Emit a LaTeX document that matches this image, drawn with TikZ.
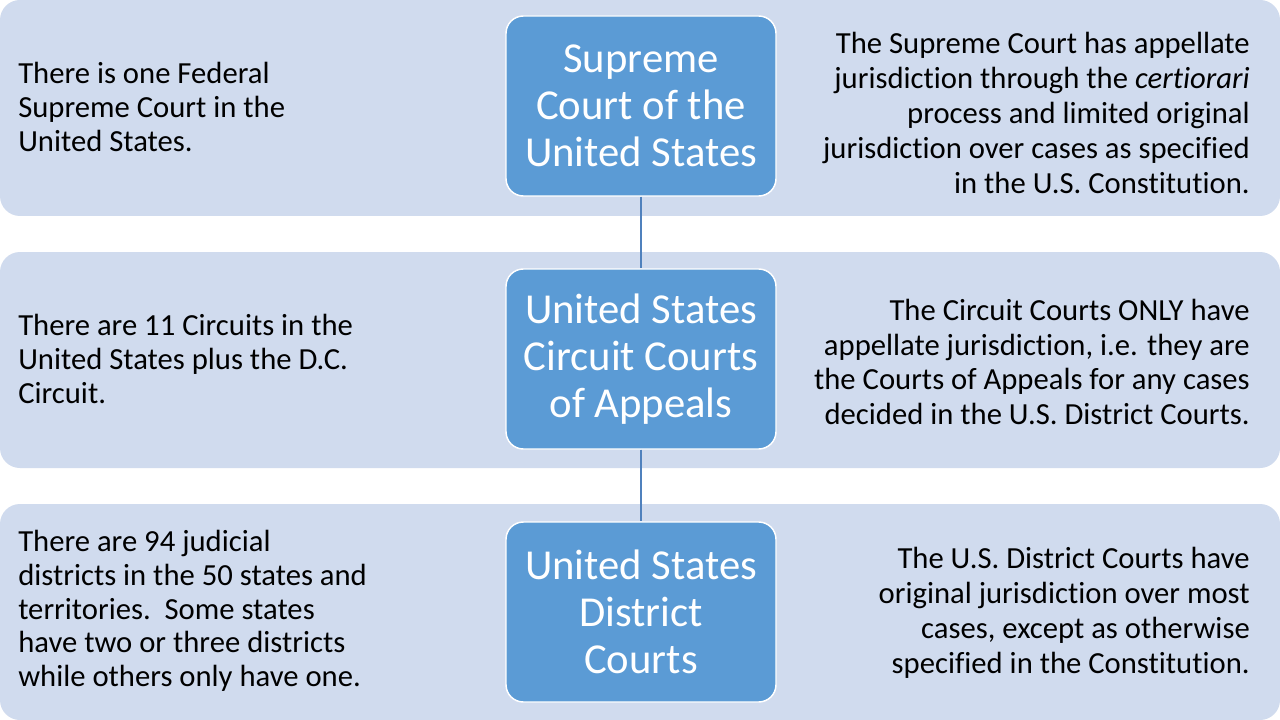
\documentclass[tikz,border=0pt]{standalone}
\usepackage{fontspec}
\setmainfont[RawFeature={-liga}]{Carlito}
\definecolor{bandfill}{RGB}{208,219,238}
\definecolor{boxfill}{RGB}{91,155,213}
\definecolor{linkcol}{RGB}{79,129,189}
\begin{document}
\begin{tikzpicture}[x=0.75pt,y=-0.75pt,
  band/.style={fill=bandfill,rounded corners=15pt},
  court/.style={draw=white,line width=1.1pt,fill=boxfill,rounded corners=13pt,
    minimum width=202.5pt,minimum height=135pt,inner sep=0pt,text=white,align=center,
    font=\fontsize{32}{35.2}\selectfont},
  lefttext/.style={anchor=west,align=left,inner sep=0pt,text=black,
    font=\fontsize{23}{25.3}\selectfont},
  righttext/.style={anchor=east,align=right,inner sep=0pt,text=black,
    font=\fontsize{23}{26.2}\selectfont},
  link/.style={draw=linkcol,line width=0.8pt}]
\useasboundingbox (0,0) rectangle (1280,720);
\fill[white] (0,0) rectangle (1280,720);
\path[band] (0,0) rectangle (1280,216);
\path[band] (0,252) rectangle (1280,468);
\path[band] (0,504) rectangle (1280,720);

\node[court] (sc) at (641,106) {Supreme\\Court of the\\United States};
\node[court] (ca) at (641,359) {United States\\Circuit Courts\\of Appeals};
\node[court] (dc) at (641,612) {United States\\District\\Courts};

\draw[link] (sc.south) -- (ca.north);
\draw[link] (ca.south) -- (dc.north);

\node[lefttext] (l1) at (18,107) {There is one Federal\\Supreme Court in the\\United States.};
\node[lefttext] (l2) at (18,359) {There are 11 Circuits in the\\United States plus the D.C.\\Circuit.};
\node[lefttext] (l3) at (18,611) {There are 94 judicial\\districts in the 50 states and\\territories.\ \ Some states\\have two or three districts\\while others only have one.};

\node[righttext] (r1) at (1250,113) {The Supreme Court has appellate\\jurisdiction through the \textit{certiorari}\\process and limited original\\jurisdiction over cases as specified\\in the U.S. Constitution.};
\node[righttext] (r2) at (1250,362) {The Circuit Courts ONLY have\\appellate jurisdiction, i.e. they are\\the Courts of Appeals for any cases\\decided in the U.S. District Courts.};
\node[righttext] (r3) at (1250,613) {The U.S. District Courts have\\original jurisdiction over most\\cases, except as otherwise\\specified in the Constitution.};
\end{tikzpicture}
\end{document}
